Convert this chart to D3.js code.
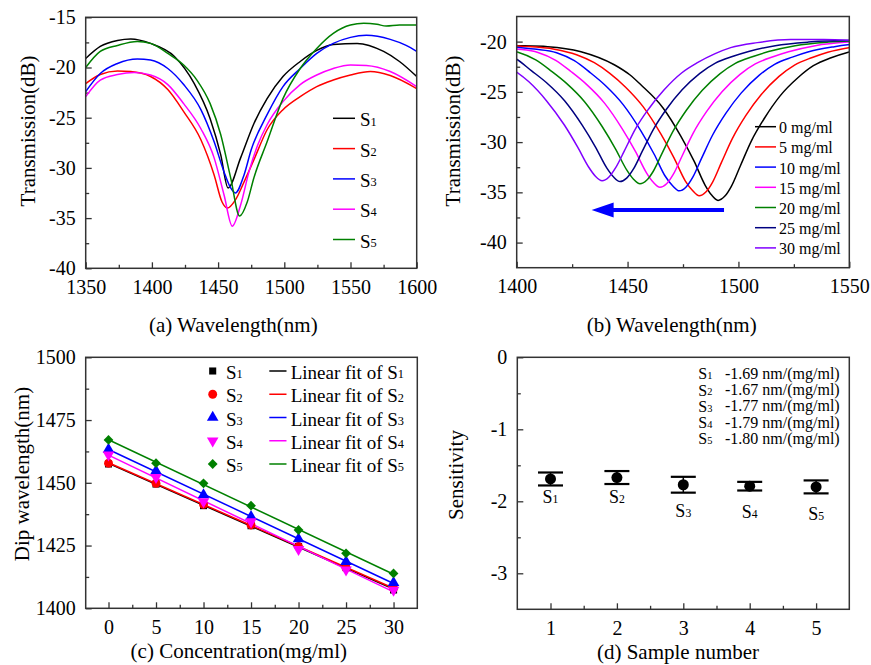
<!DOCTYPE html>
<html><head><meta charset="utf-8">
<script src="https://cdn.jsdelivr.net/npm/d3@7"></script>
<style>
body{margin:0;background:#fff}
svg{display:block}
text{font-family:"Liberation Serif","Times New Roman",serif;fill:#000}
</style>
</head><body>
<svg id="chart" width="871" height="665"></svg>
<script>
// ---------------- DATA ----------------
// Panel (a): transmission spectra of samples S1..S5  [wavelength nm, dB]
const aNames = ["1","2","3","4","5"];
const aS1 = [[1350,-19.1],[1361,-17.9],[1374,-17.3],[1384,-17.15],[1399,-17.6],[1417,-18.9],[1432,-21.6],[1444,-25.1],[1452,-28.7],[1457.5,-32.0],[1467,-29.0],[1477,-25.6],[1487,-23.1],[1499,-20.9],[1512,-19.4],[1524.5,-18.3],[1537,-17.7],[1555,-17.6],[1575,-18.4],[1587,-19.4],[1600,-20.9]];
const aS2 = [[1350,-21.6],[1361,-20.7],[1374,-20.35],[1384,-20.4],[1399,-20.9],[1412,-22.2],[1424,-24.4],[1437,-27.2],[1447,-30.7],[1453,-33.4],[1457,-34.0],[1463,-33.2],[1469.6,-31.4],[1477,-29.2],[1487,-26.2],[1499,-24.2],[1512,-22.9],[1524.5,-21.9],[1537,-21.25],[1550,-20.75],[1565,-20.4],[1580,-20.8],[1600,-22.1]];
const aS3 = [[1350,-22.4],[1361,-20.6],[1374,-19.6],[1389,-19.15],[1399,-19.25],[1412,-20.1],[1424,-21.7],[1437,-24.2],[1447,-27.4],[1454.5,-30.4],[1459.5,-32.0],[1463,-32.5],[1469.6,-30.7],[1475,-28.2],[1487,-24.7],[1499,-21.9],[1512,-20.1],[1524.5,-18.6],[1537,-17.6],[1550,-17.0],[1562,-16.8],[1580,-17.2],[1592,-17.8],[1600,-18.4]];
const aS4 = [[1350,-22.9],[1361,-21.25],[1374,-20.7],[1386.5,-20.5],[1399,-20.75],[1412,-21.7],[1424,-23.6],[1437,-26.1],[1447,-29.0],[1454.5,-32.7],[1460.7,-35.8],[1467,-33.7],[1473.5,-30.3],[1480,-27.7],[1487,-25.7],[1499,-23.4],[1512,-21.7],[1524.5,-20.75],[1537,-20.1],[1550,-19.75],[1562,-19.8],[1580,-20.4],[1600,-21.9]];
const aS5 = [[1350,-20.0],[1361,-18.4],[1374,-17.8],[1389,-17.4],[1399,-17.6],[1412,-18.6],[1424,-19.75],[1434,-21.25],[1444,-23.6],[1452,-26.7],[1459.5,-31.0],[1466.3,-34.8],[1472,-33.4],[1477,-31.0],[1487,-27.4],[1499,-23.1],[1512,-20.1],[1524.5,-18.1],[1537,-16.6],[1550,-15.77],[1560,-15.6],[1570,-15.7],[1577,-15.87],[1587,-15.77],[1600,-15.77]];
const aSeries = [aS1,aS2,aS3,aS4,aS5];
const sampleColors = ["#000000","#ff0000","#0000ff","#ff00ff","#008000"];

// Panel (b): spectra of one sample at different concentrations  [wavelength nm, dB]
const bLabels = ["0 mg/ml","5 mg/ml","10 mg/ml","15 mg/ml","20 mg/ml","25 mg/ml","30 mg/ml"];
const bColors = ["#000000","#ff0000","#0000ff","#ff00ff","#008000","#000080","#8000ff"];
const b0 = [[1390,-20.35],[1400,-20.4],[1414,-20.5],[1429,-21.0],[1444,-22.3],[1451,-23.3],[1456,-24.3],[1466,-26.6],[1474,-29.4],[1480,-31.9],[1485,-34.3],[1488,-35.3],[1490.8,-35.8],[1493.8,-35.4],[1496.8,-34.4],[1500.8,-32.4],[1505.8,-29.9],[1511.8,-27.6],[1518.8,-25.4],[1526.8,-23.6],[1533.8,-22.4],[1541.8,-21.6],[1548.8,-21.1],[1560,-20.6]];
const b5 = [[1382,-20.3],[1402,-20.45],[1417,-20.75],[1427,-21.3],[1435,-22.1],[1442,-23.16],[1449,-24.51],[1457,-26.47],[1465,-29.18],[1471,-31.59],[1476,-33.85],[1479.3,-34.82],[1482.3,-35.35],[1485.3,-34.97],[1488.3,-34.0],[1492.3,-32.04],[1497.3,-29.63],[1503.3,-27.37],[1510.3,-25.27],[1518.3,-23.46],[1525.3,-22.33],[1533.3,-21.58],[1540.3,-21.05],[1552.3,-20.5]];
const b10 = [[1393,-20.45],[1408,-20.74],[1418,-21.1],[1426,-21.9],[1433,-23.06],[1440,-24.37],[1448,-26.27],[1456,-28.88],[1462,-31.21],[1467,-33.4],[1470.3,-34.34],[1473.3,-34.85],[1476.3,-34.49],[1479.3,-33.54],[1483.3,-31.65],[1488.3,-29.32],[1494.3,-27.14],[1501.3,-25.1],[1509.3,-23.36],[1516.3,-22.26],[1524.3,-21.54],[1531.3,-21.03],[1543.3,-20.5],[1558,-20.1]];
const b15 = [[1385,-20.45],[1399.6,-20.73],[1409.6,-21.08],[1417.6,-21.86],[1424.6,-23.0],[1431.6,-24.28],[1439.6,-26.12],[1447.6,-28.68],[1453.6,-30.95],[1458.6,-33.08],[1461.6,-34.0],[1464.6,-34.5],[1467.6,-34.15],[1470.6,-33.22],[1474.6,-31.38],[1479.6,-29.1],[1485.6,-26.97],[1492.6,-24.99],[1500.6,-23.28],[1507.6,-22.22],[1515.6,-21.51],[1522.6,-21.01],[1534.6,-20.4],[1549.6,-20.05],[1560,-19.95]];
const b20 = [[1390.6,-20.72],[1400.6,-21.06],[1408.6,-21.82],[1415.6,-22.93],[1422.6,-24.18],[1430.6,-25.98],[1438.6,-28.47],[1444.6,-30.69],[1449.6,-32.77],[1452.6,-33.67],[1455.6,-34.15],[1458.6,-33.8],[1461.6,-32.9],[1465.6,-31.1],[1470.6,-28.89],[1476.6,-26.81],[1483.6,-24.87],[1491.6,-23.21],[1498.6,-22.17],[1506.6,-21.48],[1513.6,-20.99],[1525.6,-20.4],[1540.6,-20.05],[1555.6,-19.9]];
const b25 = [[1391.6,-21.1],[1399.6,-21.7],[1406.6,-22.89],[1413.6,-24.12],[1421.6,-25.89],[1429.6,-28.34],[1435.6,-30.52],[1440.6,-32.57],[1443.6,-33.45],[1446.6,-33.93],[1449.6,-33.59],[1452.6,-32.7],[1456.6,-30.93],[1461.6,-28.75],[1467.6,-26.71],[1474.6,-24.8],[1482.6,-23.16],[1489.6,-22.14],[1497.6,-21.46],[1504.6,-20.98],[1516.6,-20.4],[1531.6,-20.05],[1546.6,-19.9],[1561.6,-19.9]];
const b30 = [[1391.5,-21.9],[1398.5,-22.8],[1405.5,-24.0],[1413.5,-25.9],[1421.5,-28.3],[1427.5,-30.5],[1432.5,-32.5],[1435.5,-33.4],[1438.5,-33.85],[1441.5,-33.5],[1444.5,-32.6],[1448.5,-30.9],[1453.5,-28.7],[1459.5,-26.7],[1466.5,-24.8],[1474.5,-23.1],[1481.5,-22.1],[1489.5,-21.2],[1496.5,-20.6],[1508.5,-20.1],[1523.5,-19.8],[1538.5,-19.8],[1553.5,-19.9]];
const bSeries = [b0,b5,b10,b15,b20,b25,b30];
const bArrow = {from:[1493.5,-36.75], to:[1433.8,-36.75]};

// Panel (c): dip wavelength vs concentration
const conc = [0,5,10,15,20,25,30];
const cS1 = [1457.5,1449.5,1440.9,1432.9,1424.6,1416.2,1407.3];
const cS2 = [1457.8,1449.8,1441.4,1433.2,1424.6,1416.2,1408.0];
const cS3 = [1463.3,1454.7,1445.2,1436.5,1427.6,1418.6,1410.2];
const cS4 = [1461.1,1452.2,1442.5,1434.5,1423.5,1415.3,1407.3];
const cS5 = [1467.1,1457.8,1449.8,1440.9,1431.2,1421.9,1413.9];
const cSeries = [cS1,cS2,cS3,cS4,cS5];

// Panel (d): sensitivity per sample
const sampleNo = [1,2,3,4,5];
const sens = [-1.69,-1.67,-1.77,-1.79,-1.80];
const sensErr = [0.09,0.09,0.11,0.06,0.09];
const sensLabelY = [-1.94,-1.94,-2.13,-2.15,-2.18];
const sensText = ["-1.69 nm/(mg/ml)","-1.67 nm/(mg/ml)","-1.77 nm/(mg/ml)","-1.79 nm/(mg/ml)","-1.80 nm/(mg/ml)"];

// ---------------- DRAWING ----------------
const svg = d3.select("#chart");
const FRAME = "#333";
const defs = svg.append("defs");

function makePanel(id, L, R, T, B, xd, yd, xMaj, xMin, yMaj, yMin) {
  const x = d3.scaleLinear().domain(xd).range([L, R]);
  const y = d3.scaleLinear().domain(yd).range([B, T]);
  defs.append("clipPath").attr("id", "clip" + id).append("rect")
    .attr("x", L).attr("y", T).attr("width", R - L).attr("height", B - T);
  const fmt = d => String(d);
  const style = g => {
    g.select(".domain").remove();
    g.selectAll(".tick line").attr("stroke", FRAME).attr("stroke-width", 1.3);
    g.selectAll("text").attr("font-size", 20).attr("fill", "#000")
      .attr("font-family", '"Liberation Serif","Times New Roman",serif');
  };
  svg.append("g").attr("transform", `translate(0,${B})`)
    .call(d3.axisBottom(x).tickValues(xMaj).tickSize(-6).tickPadding(11.5).tickFormat(fmt)).call(style);
  svg.append("g").attr("transform", `translate(0,${B})`)
    .call(d3.axisBottom(x).tickValues(xMin).tickSize(-3.5).tickFormat("")).call(style);
  svg.append("g").attr("transform", `translate(${L},0)`)
    .call(d3.axisLeft(y).tickValues(yMaj).tickSize(-6).tickPadding(10).tickFormat(fmt)).call(style);
  svg.append("g").attr("transform", `translate(${L},0)`)
    .call(d3.axisLeft(y).tickValues(yMin).tickSize(-3.5).tickFormat("")).call(style);
  return {x, y, L, R, T, B, clip: "url(#clip" + id + ")"};
}
function frame(p) {
  svg.append("rect").attr("x", p.L).attr("y", p.T).attr("width", p.R - p.L).attr("height", p.B - p.T)
    .attr("fill", "none").attr("stroke", FRAME).attr("stroke-width", 1.5);
}
function vTitle(x, y, txt) {
  svg.append("text").attr("transform", `translate(${x},${y}) rotate(-90)`)
    .attr("text-anchor", "middle").attr("dominant-baseline", "central").attr("font-size", 21).text(txt);
}
function hTitle(x, y, txt) {
  svg.append("text").attr("x", x).attr("y", y).attr("text-anchor", "middle")
    .attr("dominant-baseline", "central").attr("font-size", 21).text(txt);
}
function subText(sel, x, y, main, sub, size, anchor) {
  const t = sel.append("text").attr("x", x).attr("y", y).attr("font-size", size)
    .attr("dominant-baseline", "central").attr("text-anchor", anchor || "start");
  t.append("tspan").text(main);
  t.append("tspan").attr("font-size", size * 0.65).attr("dy", size * 0.12).text(sub);
  return t;
}

// ----- Panel (a)
const pa = makePanel("a", 85.7, 416.7, 17.3, 268.3, [1350, 1600], [-40, -15],
  d3.range(1350, 1601, 50), d3.range(1375, 1600, 50), d3.range(-40, -14, 5), d3.range(-37.5, -15, 5));
const lineA = d3.line().x(d => pa.x(d[0])).y(d => pa.y(d[1])).curve(d3.curveMonotoneX);
aSeries.forEach((s, i) => {
  svg.append("path").datum(s).attr("d", lineA).attr("fill", "none")
    .attr("stroke", sampleColors[i]).attr("stroke-width", 1.5).attr("clip-path", pa.clip);
});
frame(pa);
aNames.forEach((n, i) => {
  const yy = 118.3 + 30.3 * i;
  svg.append("line").attr("x1", 333).attr("x2", 355).attr("y1", yy).attr("y2", yy)
    .attr("stroke", sampleColors[i]).attr("stroke-width", 1.5);
  subText(svg, 360, yy + 1, "S", n, 19);
});
vTitle(28, 131, "Transmission(dB)");
hTitle(233.3, 325, "(a) Wavelength(nm)");

// ----- Panel (b)
const pb = makePanel("b", 516.7, 849.3, 16.5, 267.7, [1400, 1550], [-42.5, -17.5],
  d3.range(1400, 1551, 50), d3.range(1425, 1550, 50), d3.range(-40, -19, 5), d3.range(-42.5, -18, 5).filter(v => v > -42.4));
const lineB = d3.line().x(d => pb.x(d[0])).y(d => pb.y(d[1])).curve(d3.curveMonotoneX);
bSeries.forEach((s, i) => {
  svg.append("path").datum(s).attr("d", lineB).attr("fill", "none")
    .attr("stroke", bColors[i]).attr("stroke-width", 1.5).attr("clip-path", pb.clip);
});
frame(pb);
bLabels.forEach((l, i) => {
  const yy = 126.7 + 20.2 * i;
  svg.append("line").attr("x1", 755).attr("x2", 776).attr("y1", yy).attr("y2", yy)
    .attr("stroke", bColors[i]).attr("stroke-width", 1.5);
  svg.append("text").attr("x", 779).attr("y", yy + 1).attr("dominant-baseline", "central")
    .attr("font-size", 16).text(l);
});
{
  const tx = pb.x(bArrow.to[0]), fx = pb.x(bArrow.from[0]), ay = pb.y(bArrow.to[1]);
  svg.append("line").attr("x1", tx + 18).attr("x2", fx).attr("y1", ay).attr("y2", ay)
    .attr("stroke", "#0000ff").attr("stroke-width", 4);
  svg.append("path").attr("d", `M${tx},${ay} L${tx + 22},${ay - 7.5} L${tx + 22},${ay + 7.5} Z`).attr("fill", "#0000ff");
}
vTitle(452.5, 131, "Transmission(dB)");
hTitle(671.7, 325, "(b) Wavelength(nm)");

// ----- Panel (c)
const pc = makePanel("c", 85.7, 417.3, 357.3, 608.3, [-2.4, 32.5], [1400, 1500],
  d3.range(0, 31, 5), d3.range(2.5, 30, 5), d3.range(1400, 1501, 25), d3.range(1412.5, 1500, 25));
const symbols = [
  d3.symbol().type(d3.symbolSquare).size(50),
  d3.symbol().type(d3.symbolCircle).size(62),
  d3.symbol().type(d3.symbolTriangle).size(58),
  d3.symbol().type(d3.symbolTriangle).size(58),
  d3.symbol().type(d3.symbolSquare).size(48)
];
const symRot = [0, 0, 0, 180, 45];
cSeries.forEach((s, i) => {
  // least-squares fit
  const mx = d3.mean(conc), my = d3.mean(s);
  const k = d3.sum(conc, (c, j) => (c - mx) * (s[j] - my)) / d3.sum(conc, c => (c - mx) ** 2);
  const b = my - k * mx;
  svg.append("line").attr("x1", pc.x(0)).attr("x2", pc.x(30))
    .attr("y1", pc.y(b)).attr("y2", pc.y(b + 30 * k))
    .attr("stroke", sampleColors[i]).attr("stroke-width", 1.5);
});
cSeries.forEach((s, i) => {
  s.forEach((v, j) => {
    svg.append("path").attr("d", symbols[i]())
      .attr("transform", `translate(${pc.x(conc[j])},${pc.y(v)}) rotate(${symRot[i]})`)
      .attr("fill", sampleColors[i]);
  });
});
frame(pc);
aNames.forEach((n, i) => {
  const yy = 371 + 23.25 * i;
  svg.append("path").attr("d", symbols[i]())
    .attr("transform", `translate(212.7,${yy}) rotate(${symRot[i]})`).attr("fill", sampleColors[i]);
  subText(svg, 226, yy + 1, "S", n, 19);
  svg.append("line").attr("x1", 269.3).attr("x2", 286.5).attr("y1", yy).attr("y2", yy)
    .attr("stroke", sampleColors[i]).attr("stroke-width", 1.5);
  subText(svg, 290.7, yy + 1, "Linear fit of S", n, 19);
});
vTitle(21.7, 474, "Dip wavelength(nm)");
hTitle(238.8, 651, "(c) Concentration(mg/ml)");

// ----- Panel (d)
const pd = makePanel("d", 517.3, 849.3, 357.3, 609.3, [0.5, 5.5], [-3.5, 0],
  [1, 2, 3, 4, 5], [1.5, 2.5, 3.5, 4.5], [-3, -2, -1, 0], [-2.5, -1.5, -0.5]);
frame(pd);
sampleNo.forEach((n, i) => {
  const cx = pd.x(n), yt = pd.y(sens[i] + sensErr[i]), yb = pd.y(sens[i] - sensErr[i]);
  svg.append("line").attr("x1", cx).attr("x2", cx).attr("y1", yt).attr("y2", yb)
    .attr("stroke", "#000").attr("stroke-width", 1.5);
  [yt, yb].forEach(yy => svg.append("line").attr("x1", cx - 12.5).attr("x2", cx + 12.5)
    .attr("y1", yy).attr("y2", yy).attr("stroke", "#000").attr("stroke-width", 2.2));
  svg.append("circle").attr("cx", cx).attr("cy", pd.y(sens[i])).attr("r", 5.5).attr("fill", "#000");
  subText(svg, cx, pd.y(sensLabelY[i]), "S", String(n), 18, "middle");
});
sensText.forEach((t, i) => {
  const yy = 373.3 + 16.25 * i;
  subText(svg, 698.3, yy, "S", String(sampleNo[i]), 16);
  svg.append("text").attr("x", 725).attr("y", yy).attr("dominant-baseline", "central")
    .attr("font-size", 16).text(t);
});
vTitle(456, 475, "Sensitivity");
hTitle(678, 652, "(d) Sample number");
</script>
</body></html>
